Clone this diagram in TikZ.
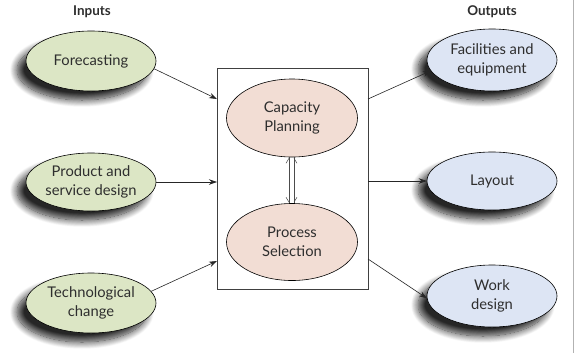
\documentclass[tikz,border=0pt]{standalone}
\usepackage{fontspec}
\setmainfont{Lato}
\usetikzlibrary{shapes.geometric,arrows.meta,shadows.blur}
\definecolor{ingreen}{HTML}{DCE6C5}
\definecolor{midpink}{HTML}{F2DDD4}
\definecolor{outblue}{HTML}{DDE5F4}
\definecolor{txt}{HTML}{2E2E2E}
\begin{document}
\begin{tikzpicture}[x=1bp,y=-1bp,
  ell/.style={ellipse, draw=black, line width=0.6bp, minimum width=130bp,
    inner xsep=-10bp, inner ysep=0pt, align=center, text=txt,
    font=\fontsize{14.8}{19}\selectfont},
  shad/.style={blur shadow={shadow xshift=-9bp, shadow yshift=-9bp,
    shadow blur radius=7bp, shadow opacity=85, shadow blur steps=14}},
  inell/.style={ell, shad, fill=ingreen, minimum height=60bp},
  outell/.style={ell, shad, fill=outblue, minimum height=60bp},
  midell/.style={ell, fill=midpink, minimum width=131bp, minimum height=78bp},
  head/.style={font=\bfseries\fontsize{13.5}{16}\selectfont, text=txt},
  arr/.style={draw=black!85, line width=0.6bp, -{Stealth[length=8bp,width=5.5bp]}},
  dline/.style={draw=black!70, line width=0.5bp},
  frame/.style={draw=black!75, line width=0.8bp, minimum width=151bp, minimum height=221bp, inner sep=0pt}
]
\useasboundingbox (0,0) rectangle (575,358);
\draw[black!30, line width=0.8bp] (573.5,0) -- (573.5,353);

\node[head] (inputs) at (92,12) {Inputs};
\node[head] (outputs) at (492,12) {Outputs};

\node[frame] (box) at (292.5,178.5) {};

\node[inell] (fore) at (91,61) {Forecasting};
\node[inell, minimum height=58bp] (prod) at (91,182) {Product and\\service design};
\node[inell] (tech) at (91,303) {Technological\\change};

\node[midell] (cap) at (292,118) {Capacity\\Planning};
\node[midell, minimum height=77bp] (proc) at (292,242) {Process\\Selection};

\node[outell, minimum height=62bp] (fac) at (492,60) {Facilities and\\equipment};
\node[outell, minimum height=58bp] (lay) at (492,181) {Layout};
\node[outell, minimum height=62bp] (work) at (492,296) {Work\\design};

\coordinate (inA) at (217,99);
\coordinate (inB) at (217,182);
\coordinate (inC) at (217,261);
\coordinate (outA) at (368,99);
\coordinate (outB) at (368,181);
\coordinate (outC) at (368,259);

\draw[arr] (fore.-7) -- (inA);
\draw[arr] (prod.east) -- (inB);
\draw[arr] (tech.11) -- (inC);
\draw[arr] (outA) -- (fac.190);
\draw[arr] (outB) -- (lay.west);
\draw[arr] (outC) -- (work.182);

% double-lined two-way arrow between the two decisions
\coordinate (dtop) at ([xshift=-0.5bp]cap.south);
\coordinate (dbot) at ([xshift=-0.5bp]proc.north);
\draw[dline] ([xshift=-2.5bp]dtop) -- ([xshift=-2.5bp]dbot);
\draw[dline] ([xshift=2.5bp]dtop) -- ([xshift=2.5bp]dbot);
\draw[dline] ([shift={(-5.5bp,-6bp)}]dtop) -- ([shift={(-2.5bp,-1bp)}]dtop);
\draw[dline] ([shift={(5.5bp,-6bp)}]dtop) -- ([shift={(2.5bp,-1bp)}]dtop);
\draw[dline] ([shift={(-5.5bp,6bp)}]dbot) -- ([shift={(-2.5bp,1bp)}]dbot);
\draw[dline] ([shift={(5.5bp,6bp)}]dbot) -- ([shift={(2.5bp,1bp)}]dbot);
\end{tikzpicture}
\end{document}
